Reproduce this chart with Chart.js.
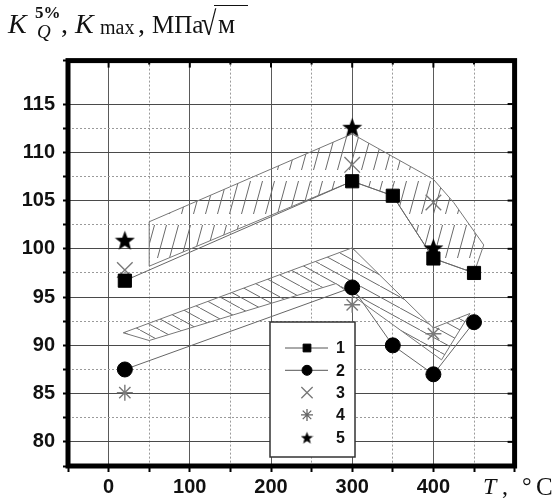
<!DOCTYPE html>
<html>
<head>
<meta charset="utf-8">
<script src="https://cdn.jsdelivr.net/npm/chart.js@4.4.1/dist/chart.umd.min.js"></script>
<style>
  body { margin: 0; background: #fff; }
  #wrap { position: relative; width: 560px; height: 503px; }
  #c { position: absolute; left: 0; top: 0; }
  .ttl { position: absolute; font-family: "Liberation Serif", "Times New Roman", serif; color: #111; white-space: nowrap; line-height: 1; }
</style>
</head>
<body>
<div id="wrap">
  <canvas id="c" width="560" height="503"></canvas>
  <div class="ttl" style="left:8px;top:10px;font-size:28px"><i>K</i></div>
  <div class="ttl" style="left:35px;top:4px;font-size:17px;font-weight:bold">5%</div>
  <div class="ttl" style="left:37px;top:22px;font-size:19px"><i>Q</i></div>
  <div class="ttl" style="left:61px;top:10px;font-size:28px">,</div>
  <div class="ttl" style="left:75px;top:10px;font-size:28px"><i>K</i></div>
  <div class="ttl" style="left:100px;top:17px;font-size:20px">max</div>
  <div class="ttl" style="left:138px;top:10px;font-size:28px">,</div>
  <div class="ttl" style="left:152px;top:12px;font-size:25px">МПа</div>
  <div class="ttl" style="left:201px;top:13px;font-size:28px;transform:scaleY(1.2);transform-origin:50% 100%">√</div>
  <div class="ttl" style="left:218px;top:11px;font-size:27px">м</div>
  <div style="position:absolute;left:214px;top:5px;width:34px;border-top:1.5px solid #111"></div>
  <div class="ttl" style="left:483px;top:474px;font-size:24px"><i>T</i></div>
  <div class="ttl" style="left:502px;top:474px;font-size:24px">,</div>
  <div class="ttl" style="left:522px;top:474px;font-size:24px">°</div>
  <div class="ttl" style="left:536px;top:474px;font-size:25px">C</div>
</div>
<script>
// measured points (T, °C ; K, MPa·m^0.5)
const t12 = [20, 300, 350, 400, 450];
const k1 = [96.7, 107.0, 105.5, 99.0, 97.5];
const k2 = [87.5, 96.0, 90.0, 87.0, 92.4];
const t345 = [20, 300, 400];
const k3 = [97.8, 108.7, 104.8];
const k4 = [85.1, 94.2, 91.2];
const k5 = [100.9, 112.6, 100.1];

// hand drawn scatter bands (outline vertices)
const bandUpT = [50, 300, 400, 425, 462, 450, 400, 350, 300, 50, 50];
const bandUpK = [102.8, 111.9, 107.2, 104.8, 100.4, 97.5, 99.0, 105.5, 107.0, 98.2, 102.8];
const bandLoT = [18, 300, 400, 445, 410, 280, 50, 18];
const bandLoK = [91.3, 100.1, 91.8, 93.3, 88.5, 96.4, 90.5, 91.3];

const xLabels = [0, 100, 200, 300, 400];
const yLabels = [80, 85, 90, 95, 100, 105, 110, 115];
const legendNames = ['1', '2', '3', '4', '5'];

const pts = (xs, ys) => xs.map((x, i) => ({ x: x, y: ys[i] }));

const canvas = document.getElementById('c');
const ctx = canvas.getContext('2d');

function starCanvas(size) {
  const c = document.createElement('canvas');
  c.width = c.height = size;
  const g = c.getContext('2d');
  g.fillStyle = '#000';
  g.beginPath();
  for (let i = 0; i < 10; i++) {
    const r = i % 2 ? size * 0.21 : size * 0.5;
    const a = -Math.PI / 2 + i * Math.PI / 5;
    const px = size / 2 + r * Math.cos(a), py = size / 2 + 1 + r * Math.sin(a);
    i ? g.lineTo(px, py) : g.moveTo(px, py);
  }
  g.closePath();
  g.fill();
  return c;
}

function hatch(w, h, x0, y0, x1, y1) {
  const c = document.createElement('canvas');
  c.width = w; c.height = h;
  const g = c.getContext('2d');
  g.strokeStyle = '#6a6a6a';
  g.lineWidth = 1;
  g.beginPath();
  g.moveTo(x0, y0);
  g.lineTo(x1, y1);
  g.stroke();
  return ctx.createPattern(c, 'repeat');
}

const bigStar = starCanvas(21);
const smallStar = starCanvas(13);
const hatchUp = hatch(12, 44, 1.5, 38, 10.5, 5);
const hatchLo = hatch(20, 11, 0, 0, 20, 11);

const isMajorY = v => v % 5 === 0;
const isMajorX = v => v % 100 === 0;

// thick frame + inward ticks on top / right
const framePlugin = {
  id: 'frame',
  afterDraw(chart) {
    const { ctx, chartArea: a, scales } = chart;
    ctx.save();
    ctx.strokeStyle = '#000';
    ctx.lineWidth = 2;
    scales.x.ticks.forEach(t => {
      const px = scales.x.getPixelForValue(t.value);
      ctx.beginPath(); ctx.moveTo(px, a.top); ctx.lineTo(px, a.top + (isMajorX(t.value) ? 7 : 4)); ctx.stroke();
    });
    scales.y.ticks.forEach(t => {
      const py = scales.y.getPixelForValue(t.value);
      ctx.beginPath(); ctx.moveTo(a.right, py); ctx.lineTo(a.right - (isMajorY(t.value) ? 7 : 4), py); ctx.stroke();
    });
    ctx.lineWidth = 5;
    ctx.strokeRect(a.left, a.top, a.right - a.left, a.bottom - a.top);
    ctx.restore();
  }
};

// legend box inside the plot
const legendPlugin = {
  id: 'boxLegend',
  afterDatasetsDraw(chart) {
    const c = chart.ctx;
    const bx = 270, by = 322, bw = 85, bh = 135;
    c.save();
    c.fillStyle = '#fff';
    c.fillRect(bx, by, bw, bh);
    c.strokeStyle = '#333';
    c.lineWidth = 1.5;
    c.strokeRect(bx, by, bw, bh);
    const styles = [
      { pointStyle: 'rect', radius: 5.5, fill: '#000', stroke: '#000', bw: 1, line: true },
      { pointStyle: 'circle', radius: 5, fill: '#000', stroke: '#000', bw: 1, line: true },
      { pointStyle: 'crossRot', radius: 8, fill: '#777', stroke: '#777', bw: 1.3 },
      { pointStyle: 'star', radius: 6, fill: '#666', stroke: '#666', bw: 1.3 },
      { pointStyle: smallStar, radius: 6, fill: '#000', stroke: '#000', bw: 1 }
    ];
    styles.forEach((s, i) => {
      const y = by + 26 + i * 22.3;
      if (s.line) {
        c.strokeStyle = '#555'; c.lineWidth = 1;
        c.beginPath(); c.moveTo(bx + 15, y); c.lineTo(bx + 58, y); c.stroke();
      }
      c.fillStyle = s.fill; c.strokeStyle = s.stroke; c.lineWidth = s.bw;
      Chart.helpers.drawPoint(c, { pointStyle: s.pointStyle, radius: s.radius, rotation: 0, borderWidth: s.bw }, bx + 37, y);
      c.fillStyle = '#111';
      c.font = 'bold 16px "Liberation Sans", Arial, sans-serif';
      c.textBaseline = 'middle';
      c.fillText(legendNames[i], bx + 66, y + 1);
    });
    c.restore();
  }
};

const tickFont = { family: '"Liberation Sans", Arial, sans-serif', size: 20, weight: 'bold' };

new Chart(ctx, {
  type: 'line',
  data: {
    datasets: [
      {
        label: legendNames[4], data: pts(t345, k5), showLine: false,
        pointStyle: bigStar, pointRadius: 10, pointHoverRadius: 10
      },
      {
        label: legendNames[0], data: pts(t12, k1), borderColor: '#666', borderWidth: 1,
        pointStyle: 'rect', pointRadius: 9.3, pointBackgroundColor: '#000', pointBorderColor: '#000', pointBorderWidth: 1
      },
      {
        label: legendNames[1], data: pts(t12, k2), borderColor: '#666', borderWidth: 1,
        pointStyle: 'circle', pointRadius: 7.5, pointBackgroundColor: '#000', pointBorderColor: '#000', pointBorderWidth: 1
      },
      {
        label: legendNames[2], data: pts(t345, k3), showLine: false,
        pointStyle: 'crossRot', pointRadius: 11, pointBorderColor: '#7a7a7a', pointBorderWidth: 1.4
      },
      {
        label: legendNames[3], data: pts(t345, k4), showLine: false,
        pointStyle: 'star', pointRadius: 8, pointBorderColor: '#7a7a7a', pointBorderWidth: 1.4
      },
      {
        label: 'upper band', data: pts(bandUpT, bandUpK), borderColor: '#777', borderWidth: 1,
        backgroundColor: hatchUp, fill: 'shape', pointRadius: 0
      },
      {
        label: 'lower band', data: pts(bandLoT, bandLoK), borderColor: '#777', borderWidth: 1,
        backgroundColor: hatchLo, fill: 'shape', pointRadius: 0
      }
    ]
  },
  options: {
    responsive: false,
    animation: false,
    events: [],
    layout: { padding: { top: 60.6, right: 45.4, left: 0, bottom: 0 } },
    plugins: {
      legend: { display: false },
      tooltip: { enabled: false }
    },
    scales: {
      x: {
        type: 'linear', min: -50, max: 500,
        afterFit: s => { s.height = 37; },
        ticks: {
          stepSize: 50, autoSkip: false, maxRotation: 0, padding: 3,
          color: '#111', font: tickFont,
          callback: v => xLabels.includes(v) ? String(v) : ''
        },
        grid: {
          color: c => isMajorX(c.tick.value) ? '#5a5a5a' : '#9a9a9a',
          lineWidth: 1, drawTicks: true, tickLength: 6, tickWidth: 2, tickColor: '#000'
        },
        border: { display: false, dash: c => isMajorX(c.tick.value) ? [] : [2, 2] }
      },
      y: {
        type: 'linear', min: 77.5, max: 119.5,
        afterFit: s => { s.width = 68; },
        ticks: {
          stepSize: 2.5, autoSkip: false, padding: 8,
          color: '#111', font: tickFont,
          callback: v => yLabels.includes(v) ? String(v) : ''
        },
        grid: {
          color: c => isMajorY(c.tick.value) ? '#4a4a4a' : '#9a9a9a',
          lineWidth: 1, drawTicks: true, tickLength: 5, tickWidth: 2, tickColor: '#000'
        },
        border: { display: false, dash: c => isMajorY(c.tick.value) ? [] : [2, 2] }
      }
    }
  },
  plugins: [legendPlugin, framePlugin]
});
</script>
</body>
</html>
